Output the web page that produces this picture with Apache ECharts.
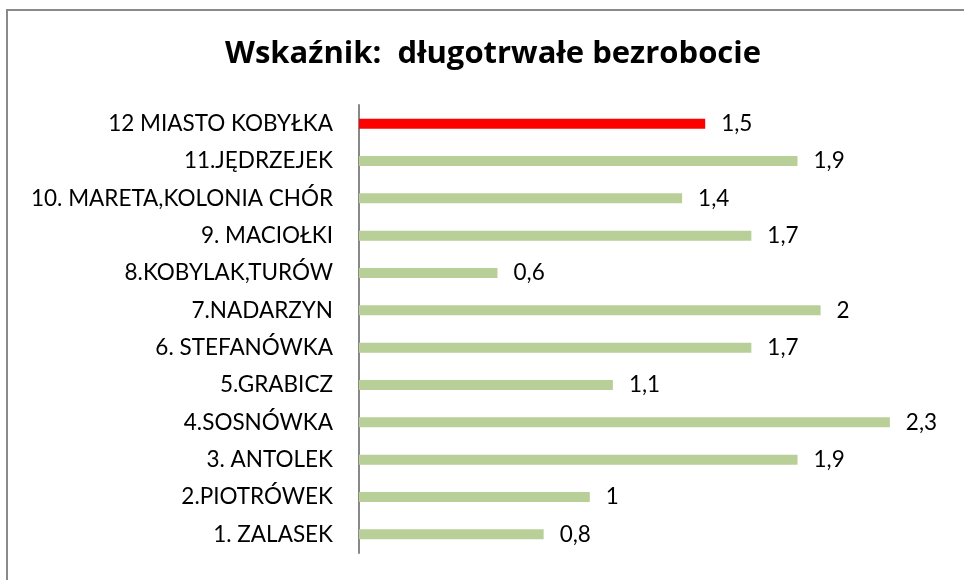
<!DOCTYPE html>
<html><head><meta charset="utf-8">
<script src="https://cdn.jsdelivr.net/npm/echarts@6/dist/echarts.min.js"></script>
<style>
html,body{margin:0;padding:0;background:#fff;overflow:hidden;}
#frame{position:absolute;left:6px;top:9px;width:1000px;height:600px;border-left:2px solid #8a8a8a;border-top:2px solid #8a8a8a;}
#chart{position:absolute;left:0;top:0;width:964px;height:580px;}
</style></head>
<body>
<div id="frame"></div>
<div id="chart"></div>
<script>
const categories = ["12 MIASTO KOBYŁKA","11.JĘDRZEJEK","10. MARETA,KOLONIA CHÓR","9. MACIOŁKI","8.KOBYLAK,TURÓW","7.NADARZYN","6. STEFANÓWKA","5.GRABICZ","4.SOSNÓWKA","3. ANTOLEK","2.PIOTRÓWEK","1. ZALASEK"];
const values = [1.5,1.9,1.4,1.7,0.6,2,1.7,1.1,2.3,1.9,1,0.8];
const highlight = "12 MIASTO KOBYŁKA";
const titleText = "Wskaźnik:  długotrwałe bezrobocie";

const chart = echarts.init(document.getElementById('chart'), null, {renderer:'canvas'});
chart.setOption({
  backgroundColor: 'transparent',
  animation: false,
  title: {
    text: titleText, left: 488, textAlign: 'center', top: 34,
    textStyle: {fontFamily: 'Open Sans', fontWeight: 'bold', fontSize: 31, color: '#000'}
  },
  grid: {left: 359, right: 28, top: 105, height: 448, containLabel: false},
  xAxis: {type: 'value', min: 0, max: 2.5, show: false},
  yAxis: {
    type: 'category', data: categories, inverse: true,
    axisLine: {lineStyle: {color: '#888', width: 2}},
    axisTick: {show: false},
    axisLabel: {fontFamily: 'Lato', fontSize: 22.5, color: '#000', margin: 26}
  },
  series: [{
    type: 'bar', barWidth: 10,
    data: values.map((v,i) => ({value: v, itemStyle: {color: categories[i] === highlight ? '#ff0000' : '#b9cf98'}})),
    label: {show: true, position: 'right', distance: 16, fontFamily: 'Lato', fontSize: 22.5, color: '#000',
      formatter: p => String(p.value).replace('.', ',')}
  }]
});
</script>
</body></html>
